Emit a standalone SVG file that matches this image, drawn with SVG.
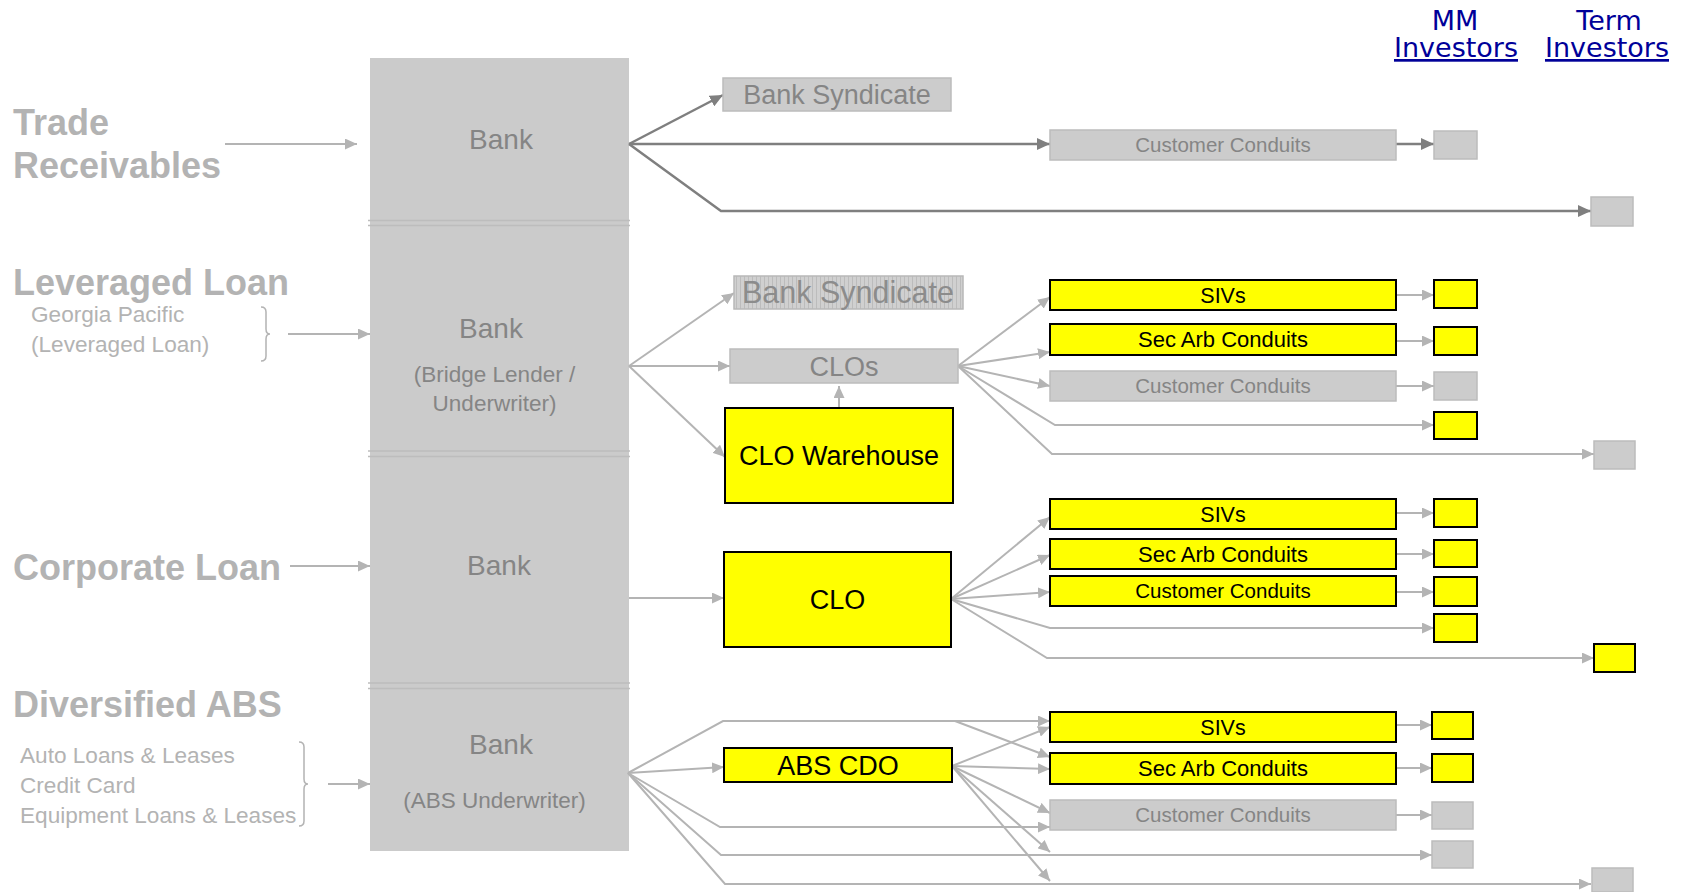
<svg xmlns="http://www.w3.org/2000/svg" width="1686" height="892" viewBox="0 0 1686 892">
  <style>
    .title { font-family: "Liberation Sans", Arial, sans-serif; font-weight: bold; font-size: 36px; fill: #b3b3b3; }
    .sub { font-family: "Liberation Sans", Arial, sans-serif; font-size: 22.6px; fill: #b3b3b3; }
    .bank { font-family: "Liberation Sans", Arial, sans-serif; font-size: 28px; fill: #858585; text-anchor: middle; }
    .bankSub { font-family: "Liberation Sans", Arial, sans-serif; font-size: 22.5px; fill: #858585; text-anchor: middle; }
    .head { font-family: "DejaVu Sans", Verdana, sans-serif; font-size: 27px; fill: #000099; text-anchor: middle; }
    .lbl { font-family: "Liberation Sans", Arial, sans-serif; text-anchor: middle; }
    .grayTxt { fill: #858585; }
    .blackTxt { fill: #000000; }
    .col { fill: #cbcbcb; }
    .sep { stroke: #bdbdbd; stroke-width: 1.5; fill: none; }
    .gbox { fill: #cccccc; stroke: #bcbcbc; stroke-width: 1.5; }
    .ybox { fill: #ffff00; stroke: #000000; stroke-width: 2; }
    .hbox { fill: url(#stripes); stroke: #b8b8b8; stroke-width: 1.5; }
    .dk { stroke: #7f7f7f; stroke-width: 2.5; fill: none; marker-end: url(#ahDark); }
    .lt { stroke: #b4b4b4; stroke-width: 2; fill: none; marker-end: url(#ahLight); }
    .brace { stroke: #b3b3b3; stroke-width: 1.5; fill: none; }
  </style>
  <defs>
    <marker id="ahDark" markerUnits="userSpaceOnUse" markerWidth="13" markerHeight="12" refX="13" refY="6" orient="auto">
      <path d="M0,0 L13,6 L0,12 z" fill="#7f7f7f"/>
    </marker>
    <marker id="ahLight" markerUnits="userSpaceOnUse" markerWidth="12" markerHeight="11" refX="12" refY="5.5" orient="auto">
      <path d="M0,0 L12,5.5 L0,11 z" fill="#b4b4b4"/>
    </marker>
    <pattern id="stripes" patternUnits="userSpaceOnUse" width="4" height="4">
      <rect width="4" height="4" fill="#d0d0d0"/>
      <rect width="1" height="4" fill="#bcbcbc"/>
    </pattern>
  </defs>

  <rect width="1686" height="892" fill="#ffffff"/>

  <!-- column headings -->
  <g id="head-mm">
    <text class="head" x="1455" y="30">MM</text>
    <text class="head" x="1456" y="57" text-decoration="underline">Investors</text>
  </g>
  <g id="head-term">
    <text class="head" x="1609" y="30">Term</text>
    <text class="head" x="1607" y="57" text-decoration="underline">Investors</text>
  </g>

  <!-- asset classes on the left -->
  <g id="src-trade">
    <text class="title" x="13" y="135">Trade</text>
    <text class="title" x="13" y="178">Receivables</text>
  </g>
  <g id="src-leveraged">
    <text class="title" x="13" y="295">Leveraged Loan</text>
    <text class="sub" x="31" y="322">Georgia Pacific</text>
    <text class="sub" x="31" y="352">(Leveraged Loan)</text>
    <path class="brace" d="M261,307 q5,0 5,5 v17 q0,5 4,5 q-4,0 -4,5 v17 q0,5 -5,5"/>
  </g>
  <g id="src-corporate">
    <text class="title" x="13" y="580">Corporate Loan</text>
  </g>
  <g id="src-abs">
    <text class="title" x="13" y="717">Diversified ABS</text>
    <text class="sub" x="20" y="763">Auto Loans &amp; Leases</text>
    <text class="sub" x="20" y="793">Credit Card</text>
    <text class="sub" x="20" y="823">Equipment Loans &amp; Leases</text>
    <path class="brace" d="M299,742 q5,0 5,5 v32 q0,5 4,5 q-4,0 -4,5 v32 q0,5 -5,5"/>
  </g>

  <!-- bank column -->
  <rect class="col" x="370" y="58" width="259" height="793"/>
  <g id="bank-trade">
    <rect class="col" x="370" y="58" width="259" height="163"/>
    <text class="bank" x="501" y="149">Bank</text>
  </g>
  <g id="bank-leveraged">
    <rect class="col" x="370" y="226" width="259" height="225"/>
    <text class="bank" x="491" y="338" font-size="30">Bank</text>
    <text class="bankSub" x="494.5" y="382">(Bridge Lender /</text>
    <text class="bankSub" x="494.5" y="411">Underwriter)</text>
  </g>
  <g id="bank-corporate">
    <rect class="col" x="370" y="456" width="259" height="227"/>
    <text class="bank" x="499" y="575">Bank</text>
  </g>
  <g id="bank-abs">
    <rect class="col" x="370" y="688" width="259" height="163"/>
    <text class="bank" x="501" y="754">Bank</text>
    <text class="bankSub" x="494.5" y="808" font-size="22">(ABS Underwriter)</text>
  </g>
  <path class="sep" d="M368,220.5 H630 M368,225.5 H630 M368,451 H630 M368,456.5 H630 M368,683 H630 M368,688.5 H630"/>

  <!-- connectors -->
  <g id="connectors">
    <!-- inputs -->
    <path class="lt" d="M225,144 L357,144"/>
    <path class="lt" d="M288,334 L370,334"/>
    <path class="lt" d="M290,566 L370,566"/>
    <path class="lt" d="M328,784 L370,784"/>

    <!-- trade receivables -->
    <path class="dk" d="M629,144 L723,95"/>
    <path class="dk" d="M629,144 L1050,144"/>
    <path class="dk" d="M629,144 L721,211 L1591,211"/>
    <path class="dk" d="M1396,144 L1434,144"/>

    <!-- leveraged loan -->
    <path class="lt" d="M629,366 L734,293"/>
    <path class="lt" d="M629,366 L730,366"/>
    <path class="lt" d="M629,366 L725,457"/>
    <path class="lt" d="M839,408 L839,386"/>
    <path class="lt" d="M958,366 L1050,297"/>
    <path class="lt" d="M958,366 L1050,352"/>
    <path class="lt" d="M958,366 L1050,386"/>
    <path class="lt" d="M958,366 L1055,425 L1434,425"/>
    <path class="lt" d="M958,366 L1052,454 L1594,454"/>
    <path class="lt" d="M1396,295 L1434,295"/>
    <path class="lt" d="M1396,341 L1434,341"/>
    <path class="lt" d="M1396,386 L1434,386"/>

    <!-- corporate loan -->
    <path class="lt" d="M629,598 L724,598"/>
    <path class="lt" d="M951,599 L1050,517"/>
    <path class="lt" d="M951,599 L1050,555"/>
    <path class="lt" d="M951,599 L1050,592"/>
    <path class="lt" d="M951,599 L1050,628 L1434,628"/>
    <path class="lt" d="M951,599 L1047,658 L1594,658"/>
    <path class="lt" d="M1396,513 L1434,513"/>
    <path class="lt" d="M1396,554 L1434,554"/>
    <path class="lt" d="M1396,592 L1434,592"/>

    <!-- diversified ABS -->
    <path class="lt" d="M628,773 L723,721 L1050,721"/>
    <path class="lt" d="M955,721 L1050,757"/>
    <path class="lt" d="M628,773 L724,767"/>
    <path class="lt" d="M628,773 L720,827 L1050,827"/>
    <path class="lt" d="M628,773 L721,855 L1432,855"/>
    <path class="lt" d="M628,773 L725,884 L1591,884"/>
    <path class="lt" d="M952,766 L1050,727"/>
    <path class="lt" d="M952,766 L1050,769"/>
    <path class="lt" d="M952,766 L1050,813"/>
    <path class="lt" d="M952,766 L1050,852"/>
    <path class="lt" d="M952,766 L1050,881"/>
    <path class="lt" d="M1396,725 L1432,725"/>
    <path class="lt" d="M1396,768 L1432,768"/>
    <path class="lt" d="M1396,815 L1432,815"/>
  </g>

  <!-- trade receivables vehicles -->
  <g id="t-syndicate">
    <rect class="gbox" x="723" y="78" width="228" height="33"/>
    <text class="lbl grayTxt" x="837" y="104" font-size="27">Bank Syndicate</text>
  </g>
  <g id="t-cust">
    <rect class="gbox" x="1050" y="130" width="346" height="30"/>
    <text class="lbl grayTxt" x="1223" y="152" font-size="20.5">Customer Conduits</text>
  </g>
  <g id="t-mm"><rect class="gbox" x="1434" y="131" width="43" height="28"/></g>
  <g id="t-term"><rect class="gbox" x="1591" y="197" width="42" height="29"/></g>

  <!-- leveraged loan vehicles -->
  <g id="l-syndicate">
    <rect class="hbox" x="734" y="276" width="229" height="33"/>
    <text class="lbl" x="848" y="303" font-size="30.5" fill="#8c8c8c">Bank Syndicate</text>
  </g>
  <g id="l-clos">
    <rect class="gbox" x="730" y="349" width="228" height="34"/>
    <text class="lbl grayTxt" x="844" y="376" font-size="27">CLOs</text>
  </g>
  <g id="l-warehouse">
    <rect class="ybox" x="725" y="408" width="228" height="95"/>
    <text class="lbl blackTxt" x="839" y="465" font-size="27">CLO Warehouse</text>
  </g>
  <g id="l-sivs">
    <rect class="ybox" x="1050" y="280" width="346" height="30"/>
    <text class="lbl blackTxt" x="1223" y="303" font-size="21.5">SIVs</text>
  </g>
  <g id="l-secarb">
    <rect class="ybox" x="1050" y="324" width="346" height="31"/>
    <text class="lbl blackTxt" x="1223" y="347" font-size="22">Sec Arb Conduits</text>
  </g>
  <g id="l-cust">
    <rect class="gbox" x="1050" y="371" width="346" height="30"/>
    <text class="lbl grayTxt" x="1223" y="393" font-size="20.5">Customer Conduits</text>
  </g>
  <g id="l-mm1"><rect class="ybox" x="1434" y="280" width="43" height="28"/></g>
  <g id="l-mm2"><rect class="ybox" x="1434" y="327" width="43" height="28"/></g>
  <g id="l-mm3"><rect class="gbox" x="1434" y="372" width="43" height="28"/></g>
  <g id="l-mm4"><rect class="ybox" x="1434" y="412" width="43" height="27"/></g>
  <g id="l-term"><rect class="gbox" x="1594" y="441" width="41" height="28"/></g>

  <!-- corporate loan vehicles -->
  <g id="c-clo">
    <rect class="ybox" x="724" y="552" width="227" height="95"/>
    <text class="lbl blackTxt" x="837.5" y="609" font-size="27">CLO</text>
  </g>
  <g id="c-sivs">
    <rect class="ybox" x="1050" y="499" width="346" height="30"/>
    <text class="lbl blackTxt" x="1223" y="522" font-size="21.5">SIVs</text>
  </g>
  <g id="c-secarb">
    <rect class="ybox" x="1050" y="539" width="346" height="30"/>
    <text class="lbl blackTxt" x="1223" y="562" font-size="22">Sec Arb Conduits</text>
  </g>
  <g id="c-cust">
    <rect class="ybox" x="1050" y="576" width="346" height="30"/>
    <text class="lbl blackTxt" x="1223" y="598" font-size="20.5">Customer Conduits</text>
  </g>
  <g id="c-mm1"><rect class="ybox" x="1434" y="499" width="43" height="28"/></g>
  <g id="c-mm2"><rect class="ybox" x="1434" y="540" width="43" height="27"/></g>
  <g id="c-mm3"><rect class="ybox" x="1434" y="577" width="43" height="29"/></g>
  <g id="c-mm4"><rect class="ybox" x="1434" y="614" width="43" height="28"/></g>
  <g id="c-term"><rect class="ybox" x="1594" y="644" width="41" height="28"/></g>

  <!-- diversified ABS vehicles -->
  <g id="a-cdo">
    <rect class="ybox" x="724" y="748" width="228" height="34"/>
    <text class="lbl blackTxt" x="838" y="775" font-size="27">ABS CDO</text>
  </g>
  <g id="a-sivs">
    <rect class="ybox" x="1050" y="712" width="346" height="30"/>
    <text class="lbl blackTxt" x="1223" y="735" font-size="21.5">SIVs</text>
  </g>
  <g id="a-secarb">
    <rect class="ybox" x="1050" y="753" width="346" height="31"/>
    <text class="lbl blackTxt" x="1223" y="776" font-size="22">Sec Arb Conduits</text>
  </g>
  <g id="a-cust">
    <rect class="gbox" x="1050" y="800" width="346" height="30"/>
    <text class="lbl grayTxt" x="1223" y="822" font-size="20.5">Customer Conduits</text>
  </g>
  <g id="a-mm1"><rect class="ybox" x="1432" y="712" width="41" height="27"/></g>
  <g id="a-mm2"><rect class="ybox" x="1432" y="754" width="41" height="28"/></g>
  <g id="a-mm3"><rect class="gbox" x="1432" y="802" width="41" height="27"/></g>
  <g id="a-mm4"><rect class="gbox" x="1432" y="841" width="41" height="27"/></g>
  <g id="a-term"><rect class="gbox" x="1592" y="868" width="41" height="24"/></g>
</svg>
